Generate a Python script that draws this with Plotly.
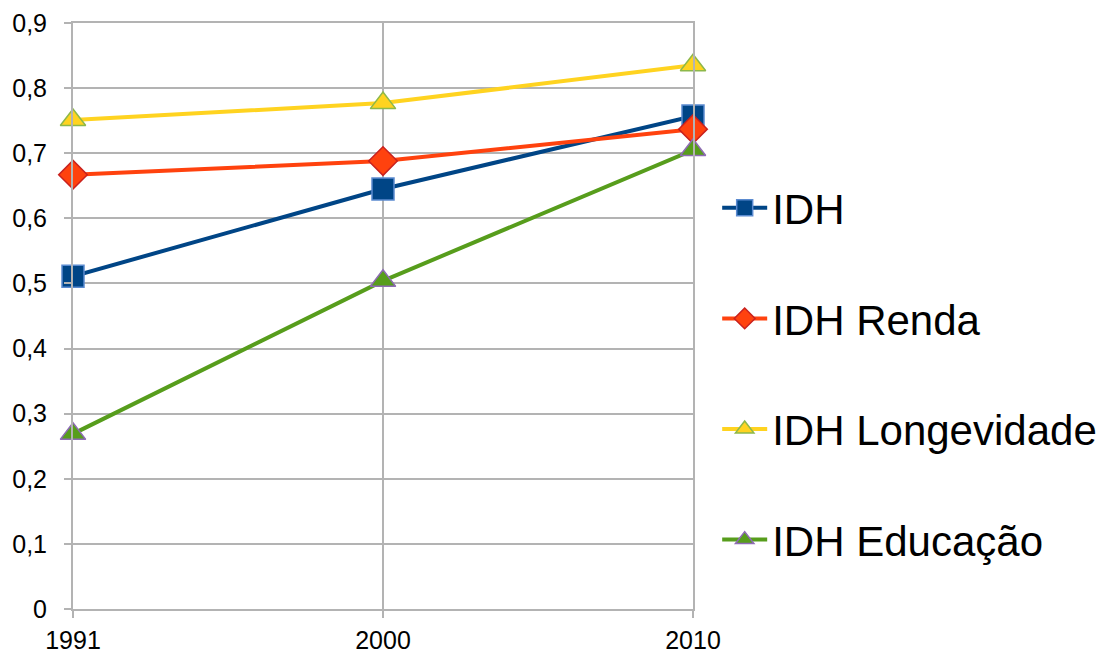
import plotly.graph_objects as go

# dados
anos = ["1991", "2000", "2010"]
idh = [0.511, 0.645, 0.757]
idh_renda = [0.667, 0.688, 0.737]
idh_longevidade = [0.751, 0.777, 0.835]
idh_educacao = [0.269, 0.504, 0.705]
y_ticks = [0, 0.1, 0.2, 0.3, 0.4, 0.5, 0.6, 0.7, 0.8, 0.9]
y_labels = ["0", "0,1", "0,2", "0,3", "0,4", "0,5", "0,6", "0,7", "0,8", "0,9"]

FONT = "Liberation Sans, Arial, sans-serif"
GRID = "#b3b3b3"

series = [
    ("IDH", idh, "#004586", "square", "#5b8bd0"),
    ("IDH Renda", idh_renda, "#ff420e", "diamond", "#c9211e"),
    ("IDH Longevidade", idh_longevidade, "#ffd320", "triangle-up", "#8db84a"),
    ("IDH Educação", idh_educacao, "#579d1c", "triangle-up", "#8e6bb5"),
]

fig = go.Figure()

for nome, valores, cor, simbolo, borda in series:
    fig.add_trace(go.Scatter(
        x=anos,
        y=valores,
        name=nome,
        legendgroup=nome,
        mode="lines+markers",
        line=dict(color=cor, width=4),
        marker=dict(symbol=simbolo, size=22, color=cor, line=dict(color=borda, width=1.5)),
        cliponaxis=False,
    ))

eixo = dict(
    automargin=False,
    showgrid=True,
    gridcolor=GRID,
    gridwidth=2,
    showline=True,
    linecolor=GRID,
    linewidth=2,
    mirror=True,
    zeroline=False,
    ticks="outside",
    ticklen=7,
    tickcolor=GRID,
    tickwidth=2,
    tickfont=dict(size=25),
)

fig.update_layout(
    width=1108,
    height=656,
    paper_bgcolor="white",
    plot_bgcolor="white",
    font=dict(family=FONT, size=25, color="black"),
    margin=dict(l=65, r=423, t=15, b=55),
    showlegend=True,
    legend=dict(
        x=1.039, xanchor="left",
        y=0.401, yanchor="middle",
        font=dict(size=42, family=FONT),
        traceorder="grouped",
        tracegroupgap=53,
        itemwidth=45,
        bgcolor="rgba(0,0,0,0)",
    ),
    xaxis=dict(eixo, type="category", range=[0, 2], ticklabelstandoff=1),
    yaxis=dict(eixo, range=[0, 0.9], tickvals=y_ticks, ticktext=y_labels, ticklabelstandoff=12),
)

fig.write_html("out.html")
